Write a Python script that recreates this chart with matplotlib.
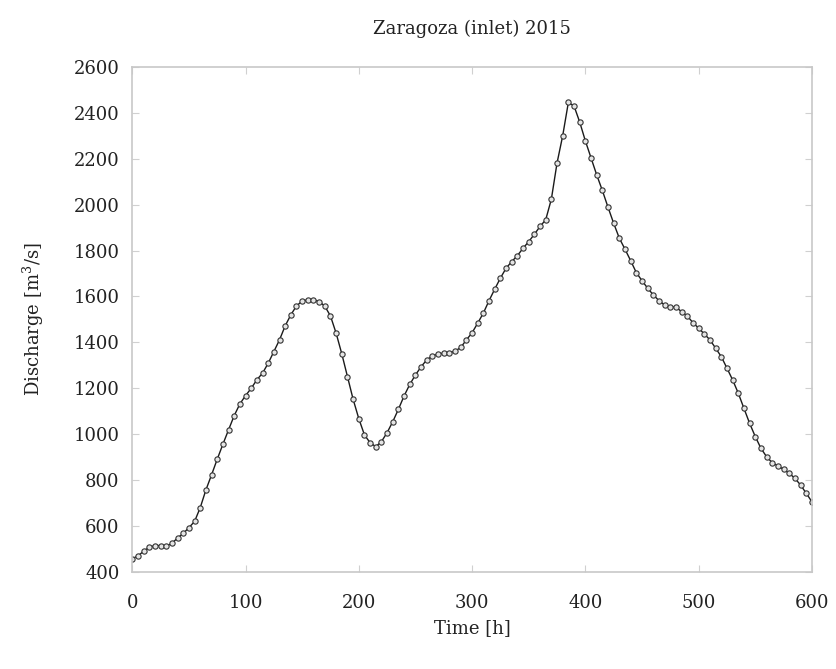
import numpy as np
import matplotlib
matplotlib.use("Agg")
import matplotlib.pyplot as plt

# hourly discharge at the Zaragoza inlet, sampled every 5 h
time_h = np.arange(0, 605, 5)
discharge = [
    458, 470, 490, 508, 515, 515, 512, 525, 548, 568,
    593, 620, 680, 757, 823, 891, 956, 1019, 1081, 1132,
    1168, 1200, 1237, 1266, 1309, 1360, 1411, 1472, 1520, 1559,
    1580, 1586, 1586, 1578, 1558, 1515, 1440, 1350, 1251, 1152,
    1068, 997, 963, 946, 968, 1007, 1055, 1109, 1167, 1217,
    1258, 1294, 1324, 1341, 1350, 1353, 1355, 1362, 1378, 1411,
    1442, 1484, 1528, 1582, 1632, 1680, 1723, 1752, 1778, 1810,
    1839, 1871, 1905, 1934, 2024, 2181, 2300, 2445, 2430, 2360,
    2278, 2204, 2130, 2062, 1989, 1919, 1854, 1806, 1756, 1704,
    1669, 1636, 1607, 1582, 1563, 1556, 1553, 1534, 1515, 1486,
    1462, 1437, 1411, 1375, 1338, 1288, 1237, 1179, 1113, 1048,
    990, 939, 902, 876, 862, 847, 830, 808, 779, 743,
    706,
]
x_ticks = [0, 100, 200, 300, 400, 500, 600]
y_ticks = list(range(400, 2601, 200))

plt.rcParams["font.family"] = "DejaVu Serif"
plt.rcParams["mathtext.fontset"] = "dejavuserif"

fig = plt.figure(figsize=(8.37, 6.69), dpi=100)
ax = fig.add_axes([0.158, 0.145, 0.812, 0.755])

ax.plot(time_h, discharge, color="#1a1a1a", lw=1.0, marker="o",
        markersize=3.8, markerfacecolor="#e4e4e4", markeredgecolor="#333333",
        markeredgewidth=0.8)

ax.set_xlim(0, 600)
ax.set_ylim(400, 2600)
ax.set_xticks(x_ticks)
ax.set_yticks(y_ticks)

for side in ax.spines.values():
    side.set_color("#c8c8c8")
    side.set_linewidth(1.2)
ax.tick_params(direction="in", length=5, color="#d0d0d0", labelsize=13,
               top=True, right=True, labelcolor="#222222")
ax.tick_params(axis="x", pad=16)
ax.tick_params(axis="y", pad=9)

ax.set_title("Zaragoza (inlet) 2015", fontsize=13, pad=24, color="#222222")
ax.set_xlabel("Time [h]", fontsize=13, labelpad=5, color="#222222")
ax.set_ylabel("Discharge [m$^3$/s]", fontsize=13, labelpad=20, color="#222222")

fig.savefig("out.png", dpi=100)
